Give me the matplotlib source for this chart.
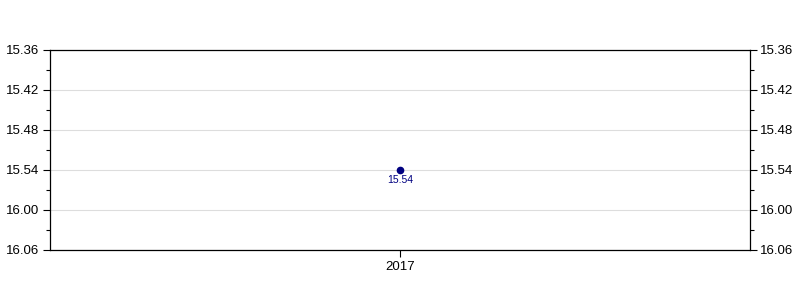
import matplotlib
matplotlib.use('Agg')
import matplotlib.pyplot as plt
from matplotlib.ticker import FuncFormatter, MultipleLocator

plt.rcParams['font.family'] = ['Liberation Sans', 'DejaVu Sans']

# data: race times written as minutes.seconds
years = [2017]
times = ['15.54']


def to_seconds(t):
    m, s = t.split('.')
    return int(m) * 60 + int(s)


def fmt_time(v, pos):
    v = int(round(v))
    return '%d.%02d' % (v // 60, v % 60)


secs = [to_seconds(t) for t in times]

fig = plt.figure(figsize=(8, 3), dpi=100)
ax = fig.add_axes([0.0625, 1 - 250 / 300, 0.875, 200 / 300])

ax.plot(years, secs, 'o', color='#000080', markersize=4.5, zorder=3)
for x, y, t in zip(years, secs, times):
    ax.annotate(t, (x, y), xytext=(0, -3.5), textcoords='offset points',
                ha='center', va='top', fontsize=7.5, color='#000080')

ax.set_xlim(years[0] - 1, years[0] + 1)
ax.set_xticks(years)
ax.set_xticklabels([str(y) for y in years])

ax.set_ylim(966, 936)  # inverted: faster times on top
ax.yaxis.set_major_locator(MultipleLocator(6))
ax.yaxis.set_minor_locator(MultipleLocator(3))
ax.yaxis.set_major_formatter(FuncFormatter(fmt_time))
ax.yaxis.grid(True, which='major', color='#dddddd', linewidth=0.8)
ax.set_axisbelow(True)

ax.tick_params(axis='y', which='both', left=True, right=True,
               labelleft=True, labelright=True, direction='out')
ax.tick_params(axis='both', which='major', length=5, width=0.8,
               labelsize=9.5)
ax.tick_params(axis='y', which='major', pad=2.5)
ax.tick_params(axis='x', which='major', pad=3)
ax.tick_params(axis='y', which='minor', length=3, width=0.8)
for s in ax.spines.values():
    s.set_linewidth(0.9)

fig.savefig('out.png', dpi=100)
